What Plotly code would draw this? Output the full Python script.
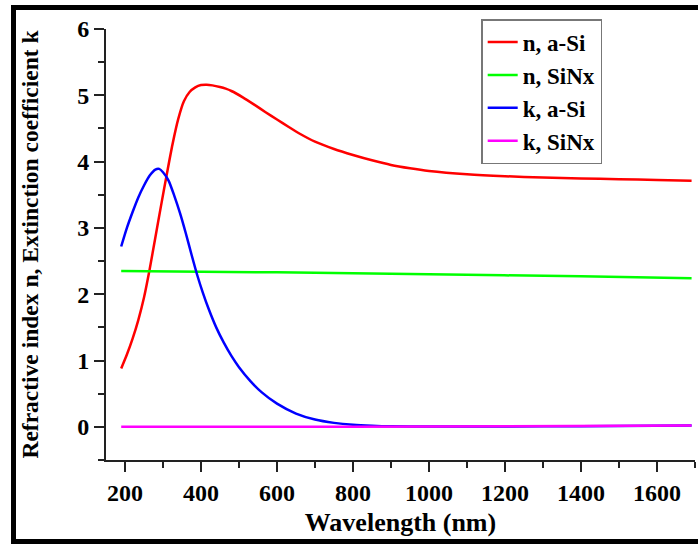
import plotly.graph_objects as go

# ---- data ----
wl_n_asi = [190, 205, 220, 235, 250, 265, 280, 295, 310, 325, 340, 355, 370, 385, 400, 415,
            430, 450, 465, 480, 510, 540, 570, 600, 630, 660, 700, 750, 800, 850, 900, 950, 1000,
            1100, 1200, 1300, 1400, 1500, 1600, 1691]
n_asi = [0.88, 1.09, 1.33, 1.61, 1.95, 2.38, 2.86, 3.34, 3.81, 4.26, 4.64, 4.91, 5.05, 5.12, 5.155, 5.16,
         5.15, 5.125, 5.10, 5.065, 4.97, 4.86, 4.745, 4.635, 4.525, 4.42, 4.30, 4.19, 4.10, 4.02, 3.95, 3.90, 3.86,
         3.81, 3.78, 3.76, 3.745, 3.735, 3.722, 3.712]

wl_n_sinx = [190, 600, 1000, 1400, 1691]
n_sinx = [2.35, 2.33, 2.30, 2.27, 2.24]

wl_k_asi = [190, 205, 220, 235, 250, 265, 280, 290, 300, 315, 330, 345, 360, 375, 390, 405,
            420, 440, 460, 480, 500, 530, 560, 600, 650, 700, 750, 800, 850, 900, 1000, 1200,
            1400, 1691]
k_asi = [2.72, 3.00, 3.24, 3.46, 3.64, 3.79, 3.88, 3.89, 3.84, 3.71, 3.48, 3.22, 2.92, 2.60, 2.29, 2.02,
         1.78, 1.50, 1.27, 1.07, 0.90, 0.69, 0.52, 0.35, 0.20, 0.11, 0.06, 0.03, 0.015, 0.008, 0.005, 0.005,
         0.01, 0.02]

wl_k_sinx = [190, 800, 1200, 1691]
k_sinx = [0.0, 0.0, 0.01, 0.02]

series_names = ["n, a-Si", "n, SiNx", "k, a-Si", "k, SiNx"]
series_colors = ["#FF0000", "#00FF00", "#0000FF", "#FF00FF"]

x_tick_vals = [200, 400, 600, 800, 1000, 1200, 1400, 1600]
y_tick_vals = [0, 1, 2, 3, 4, 5, 6]

FONT = "Liberation Serif, Times New Roman, serif"

fig = go.Figure()
for xs, ys, name, color in zip([wl_n_asi, wl_n_sinx, wl_k_asi, wl_k_sinx],
                               [n_asi, n_sinx, k_asi, k_sinx],
                               series_names, series_colors):
    fig.add_trace(go.Scatter(x=xs, y=ys, mode="lines", name=name,
                             line=dict(color=color, width=2.5, shape="spline", smoothing=0.6)))

axis_common = dict(
    showline=True, linecolor="#222", linewidth=2, mirror=False,
    showgrid=False, zeroline=False,
    ticks="outside", ticklen=10, tickwidth=2, tickcolor="#222",
)

fig.update_layout(
    width=698, height=544,
    margin=dict(l=106, r=3, t=29, b=84),
    paper_bgcolor="white", plot_bgcolor="white",
    font=dict(family=FONT, color="black", size=20, weight="bold"),
    xaxis=dict(
        range=[150, 1700], tickvals=x_tick_vals,
        minor=dict(dtick=100, tick0=100, ticks="outside", ticklen=6, tickwidth=2, tickcolor="#222"),
        tickfont=dict(family=FONT, size=24, weight="bold"),
        title=dict(text="Wavelength (nm)", font=dict(family=FONT, size=26, weight="bold"), standoff=8),
        **axis_common,
    ),
    yaxis=dict(
        range=[-0.5, 6], tickvals=y_tick_vals,
        minor=dict(dtick=0.5, tick0=0, ticks="outside", ticklen=6, tickwidth=2, tickcolor="#222"),
        tickfont=dict(family=FONT, size=24, weight="bold"),
        title=dict(text="Refractive index n, Extinction coefficient k",
                   font=dict(family=FONT, size=23.5, weight="bold"), standoff=32),
        **axis_common,
    ),
    legend=dict(
        x=0.637, y=1.023, xanchor="left", yanchor="top",
        bgcolor="white", bordercolor="#777", borderwidth=1.5,
        font=dict(family=FONT, size=23, weight="bold"),
        tracegroupgap=0,
    ),
    showlegend=True,
)

# outer black frame around the figure
fig.add_shape(type="rect", xref="paper", yref="paper",
              x0=(13.5 - 106) / 589, x1=1.03,
              y0=(460 - 541.5) / 431, y1=(460 - 7.5) / 431,
              line=dict(color="black", width=5), fillcolor="rgba(0,0,0,0)", layer="above")

fig.write_html("out.html")
